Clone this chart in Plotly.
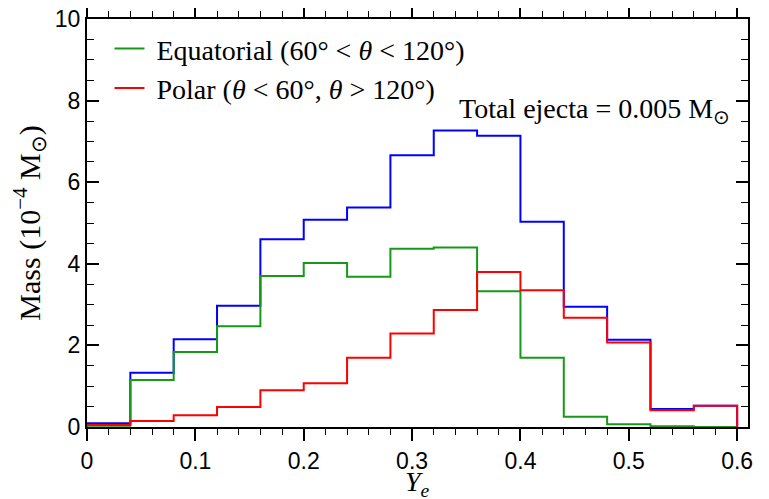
import plotly.graph_objects as go

# Bin edges in Ye (width 0.04)
bin_edges = [0.0, 0.04, 0.08, 0.12, 0.16, 0.20, 0.24, 0.28, 0.32, 0.36,
             0.40, 0.44, 0.48, 0.52, 0.56, 0.60]

# Mass per bin in units of 1e-4 Msun
total_mass = [0.09, 1.33, 2.15, 2.97, 4.60, 5.08, 5.38, 6.66, 7.27, 7.14,
              5.03, 2.95, 2.14, 0.44, 0.52]
equatorial_mass = [0.03, 1.15, 1.84, 2.47, 3.70, 4.02, 3.68, 4.37, 4.40, 3.33,
                   1.70, 0.25, 0.07, 0.02, 0.00]
polar_mass = [0.05, 0.15, 0.29, 0.49, 0.90, 1.07, 1.70, 2.29, 2.87, 3.80,
              3.35, 2.68, 2.07, 0.41, 0.52]

x_ticks = [0, 0.1, 0.2, 0.3, 0.4, 0.5, 0.6]
x_tick_labels = ["0", "0.1", "0.2", "0.3", "0.4", "0.5", "0.6"]
y_ticks = [0, 2, 4, 6, 8, 10]
y_tick_labels = ["0", "2", "4", "6", "8", "10"]


def step_xy(edges, vals):
    xs = [edges[0]] + list(edges)
    ys = [0] + list(vals) + [0]
    return xs, ys


SERIF = "Liberation Serif, Times New Roman, serif"
SANS = "Liberation Sans, Arial, sans-serif"

fig = go.Figure()
for name, vals, color, show in [
    ("Total", total_mass, "#0000ff", False),
    ("&nbsp;Equatorial (60° &lt; <i>θ</i> &lt; 120°)", equatorial_mass, "#169a16", True),
    ("&nbsp;Polar (<i>θ</i> &lt; 60°, <i>θ</i> &gt; 120°)", polar_mass, "#ff0000", True),
]:
    xs, ys = step_xy(bin_edges, vals)
    fig.add_trace(go.Scatter(x=xs, y=ys, mode="lines", line_shape="hv",
                             line=dict(color=color, width=2),
                             name=name, showlegend=show))

fig.add_annotation(x=0.595, y=7.75, xref="x", yref="y", xanchor="right", yanchor="middle",
                   text="Total ejecta = 0.005 M<sub>⊙</sub>", showarrow=False,
                   font=dict(family=SERIF, size=28, color="black"))

# x-axis title (placed as annotation so it stays inside the page)
fig.add_annotation(x=0.5, y=0, xref="paper", yref="paper", xanchor="center", yanchor="middle",
                   yshift=-56, text="<i>Y<sub>e</sub></i>", showarrow=False,
                   font=dict(family=SERIF, size=28, color="black"))

fig.update_layout(
    width=769, height=499,
    margin=dict(l=79, r=29, t=11, b=80),
    paper_bgcolor="white", plot_bgcolor="white",
    legend=dict(x=0.034, y=0.988, xanchor="left", yanchor="top",
                font=dict(family=SERIF, size=28, color="black"),
                bgcolor="rgba(0,0,0,0)", itemwidth=30, tracegroupgap=0),
    xaxis=dict(range=[0, 0.61], tickvals=x_ticks, ticktext=x_tick_labels,
               ticks="outside", ticklen=12, tickwidth=1.5, tickcolor="black",
               showline=True, linewidth=2, linecolor="black", mirror="allticks",
               showgrid=False, zeroline=False, automargin=False,
               ticklabeloverflow="allow",
               tickfont=dict(family=SANS, size=23, color="black"),
               minor=dict(dtick=0.02, ticks="outside", ticklen=6, tickcolor="black", tickwidth=1)),
    yaxis=dict(range=[0, 10], tickvals=y_ticks, ticktext=y_tick_labels,
               ticks="inside", ticklen=12, tickwidth=1.5, tickcolor="black",
               showline=True, linewidth=2, linecolor="black", mirror="allticks",
               showgrid=False, zeroline=False, automargin=False,
               ticklabeloverflow="allow",
               tickfont=dict(family=SANS, size=23, color="black"),
               minor=dict(dtick=0.5, ticks="inside", ticklen=7, tickcolor="black", tickwidth=1),
               title=dict(text="Mass (10<sup>−4</sup> M<sub>⊙</sub>)",
                          font=dict(family=SERIF, size=30, color="black"), standoff=14)),
)

fig.write_html("out.html")
